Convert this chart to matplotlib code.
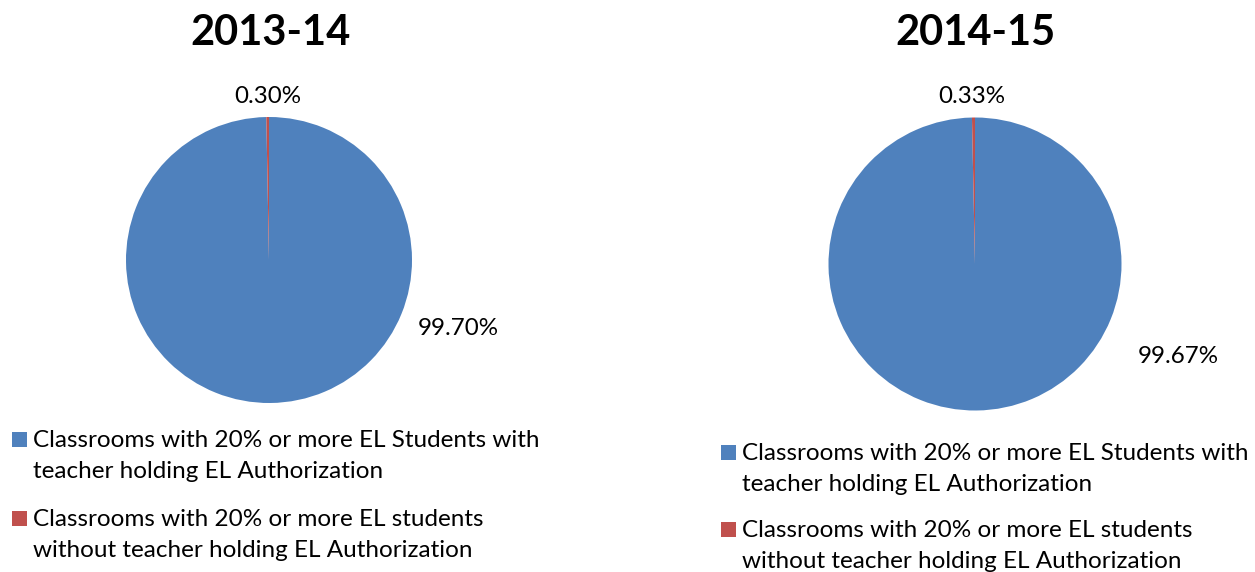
import matplotlib.pyplot as plt
from matplotlib.patches import Rectangle

# shares of classrooms with 20%+ EL students, by school year
years = ["2013-14", "2014-15"]
with_auth = [99.70, 99.67]
without_auth = [0.30, 0.33]
legend_labels = [
    ["Classrooms with 20% or more EL Students with", "teacher holding EL Authorization"],
    ["Classrooms with 20% or more EL students", "without teacher holding EL Authorization"],
]
colors = ["#4F81BD", "#C0504D"]

W, H = 1255, 572
plt.rcParams['font.family'] = ['Lato', 'DejaVu Sans']
fig = plt.figure(figsize=(W / 100, H / 100), dpi=100)


def frac(x, y):
    # pixel coords (top-left origin) -> figure fraction
    return x / W, 1 - y / H


# pie geometry per panel: center x, center y, radius (pixels)
panels = [
    dict(cx=269, cy=260, r=143, title_x=270, small=(-0.01, 1.14), big=(1.32, -0.48),
         sq_x=12, text_x=33, baselines=[(447, 478), (526, 557)]),
    dict(cx=975, cy=264, r=146.5, title_x=975, small=(-0.02, 1.14), big=(1.39, -0.63),
         sq_x=721, text_x=742, baselines=[(460, 491), (537, 568)]),
]

for i, p in enumerate(panels):
    l, b = frac(p["cx"] - p["r"], p["cy"] + p["r"])
    ax = fig.add_axes([l, b, 2 * p["r"] / W, 2 * p["r"] / H])
    vals = [with_auth[i], without_auth[i]]
    wedges, _ = ax.pie(vals, colors=colors, startangle=90, counterclock=False,
                       radius=1, wedgeprops=dict(linewidth=0))
    ax.set_xlim(-1, 1)
    ax.set_ylim(-1, 1)
    ax.set_aspect('equal')
    ax.axis('off')

    ax.text(p["small"][0], p["small"][1], f"{without_auth[i]:.2f}%", ha='center',
            va='center', fontsize=17.4, color='black', clip_on=False)
    ax.text(p["big"][0], p["big"][1], f"{with_auth[i]:.2f}%", ha='center',
            va='center', fontsize=17.4, color='black', clip_on=False)

    tx, ty = frac(p["title_x"], 33)
    fig.text(tx, ty, years[i], ha='center', va='center', fontsize=30,
             fontweight='bold')

    # legend: square marker sitting on the first line's baseline
    for j, lines in enumerate(legend_labels):
        b1, b2 = p["baselines"][j]
        sx, sy = frac(p["sq_x"], b1)
        fig.patches.append(Rectangle((sx, sy), 15 / W, 15 / H, transform=fig.transFigure,
                                     facecolor=wedges[j].get_facecolor(), edgecolor='none'))
        for line, base in zip(lines, (b1, b2)):
            lx, ly = frac(p["text_x"], base)
            fig.text(lx, ly, line, ha='left', va='baseline', fontsize=17.5)

fig.savefig("out.png", dpi=100, facecolor='white')
